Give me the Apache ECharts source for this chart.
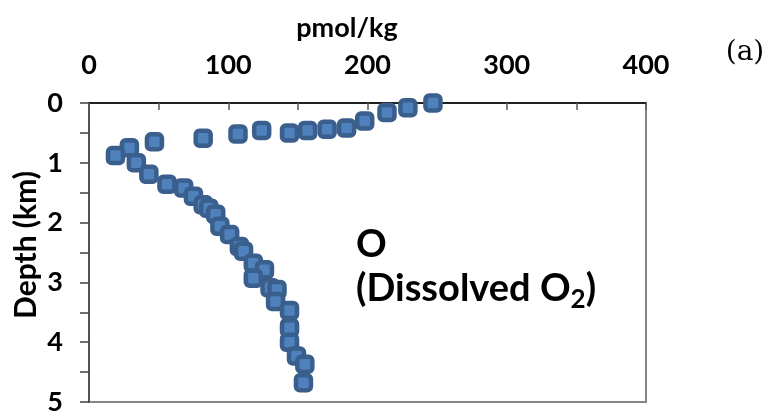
<!DOCTYPE html>
<html>
<head>
<meta charset="utf-8">
<script src="https://cdn.jsdelivr.net/npm/echarts@6/dist/echarts.min.js"></script>
<style>
  html, body { margin: 0; padding: 0; background: #fff; }
  #chart { width: 769px; height: 417px; }
</style>
</head>
<body>
<div id="chart"></div>
<script>
// Dissolved O2 concentration (pmol/kg) against depth (km)
const o2Values = [
  247, 229, 214, 198, 185, 171, 157, 144, 124, 107, 82, 47, 29, 19,
  34, 43, 56, 68, 75, 82, 86, 91, 94, 101, 108, 111, 118, 126, 118,
  130, 135, 134, 144, 144, 144, 149, 155, 154
];
const depthValues = [
  0.0, 0.08, 0.16, 0.30, 0.42, 0.44, 0.46, 0.50, 0.46, 0.52, 0.59, 0.65, 0.75, 0.88,
  1.00, 1.19, 1.36, 1.42, 1.56, 1.70, 1.76, 1.86, 2.06, 2.20, 2.40, 2.48, 2.68, 2.79, 2.93,
  3.09, 3.12, 3.32, 3.47, 3.76, 4.00, 4.23, 4.37, 4.68
];
const xTickLabels = [0, 100, 200, 300, 400];
const yTickLabels = [0, 1, 2, 3, 4, 5];

const points = o2Values.map((v, i) => [v, depthValues[i]]);

const boldFont = { fontFamily: 'Lato', fontWeight: 'bold', color: '#000' };

const chart = echarts.init(document.getElementById('chart'), null, { renderer: 'canvas' });
chart.setOption({
  animation: false,
  backgroundColor: '#fff',
  grid: {
    left: 89, top: 103, right: 123, bottom: 15,
    show: true, borderColor: '#868686', borderWidth: 2, backgroundColor: 'transparent'
  },
  xAxis: {
    type: 'value', position: 'top', min: 0, max: 400, interval: 50,
    axisLine: { show: true, onZero: false, lineStyle: { color: '#000', width: 1.5 } },
    axisTick: { show: true, inside: true, length: 7, lineStyle: { color: '#595959', width: 1.5 } },
    axisLabel: Object.assign({
      margin: 24, fontSize: 27,
      formatter: v => (xTickLabels.includes(v) ? String(v) : '')
    }, boldFont),
    splitLine: { show: false }
  },
  yAxis: {
    type: 'value', inverse: true, min: 0, max: 5, interval: 0.5,
    axisLine: { show: true, onZero: false, lineStyle: { color: '#404040', width: 1.5 } },
    axisTick: { show: true, inside: false, length: 9, lineStyle: { color: '#404040', width: 1.5 } },
    axisLabel: Object.assign({
      margin: 26, fontSize: 27,
      formatter: v => (yTickLabels.includes(v) ? String(v) : '')
    }, boldFont),
    splitLine: { show: false }
  },
  series: [{
    type: 'scatter',
    data: points,
    symbol: 'roundRect',
    symbolSize: 15,
    itemStyle: { color: '#4F81BD', borderColor: '#3A5F8C', borderWidth: 4.5, opacity: 1 }
  }],
  graphic: [
    {
      type: 'text', x: 347, y: 28,
      style: { text: 'pmol/kg', fontFamily: 'Lato', fontWeight: 'bold', fontSize: 27, align: 'center', verticalAlign: 'middle', fill: '#000' }
    },
    {
      type: 'text', x: 26, y: 245, rotation: Math.PI / 2,
      style: { text: 'Depth (km)', fontFamily: 'Lato', fontWeight: 'bold', fontSize: 30, align: 'center', verticalAlign: 'middle', fill: '#000' }
    },
    {
      type: 'text', x: 745, y: 53,
      style: { text: '(a)', fontFamily: 'DejaVu Serif', fontSize: 28, align: 'center', verticalAlign: 'middle', fill: '#000' }
    },
    {
      type: 'text', x: 356, y: 245,
      style: { text: 'O', fontFamily: 'Lato', fontWeight: 'bold', fontSize: 38, align: 'left', verticalAlign: 'middle', fill: '#000' }
    },
    {
      type: 'text', x: 356, y: 289,
      style: {
        text: '{a|(Dissolved O}{s|2}{a|)}',
        align: 'left', verticalAlign: 'middle',
        rich: {
          a: { fontFamily: 'Lato', fontWeight: 'bold', fontSize: 38, fill: '#000', color: '#000' },
          s: { fontFamily: 'Lato', fontWeight: 'bold', fontSize: 26, fill: '#000', color: '#000', padding: [22, 0, 0, 0] }
        }
      }
    }
  ]
});
</script>
</body>
</html>
